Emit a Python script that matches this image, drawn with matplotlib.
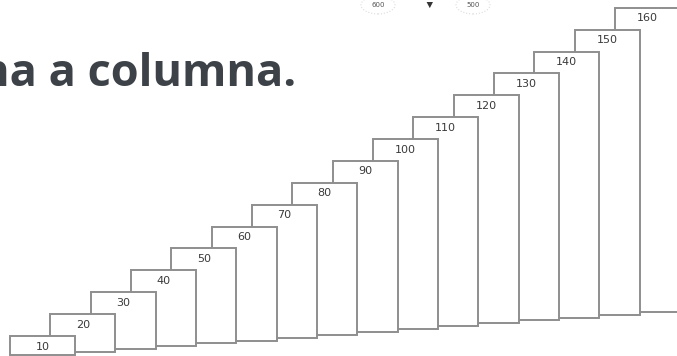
import numpy as np
import matplotlib.pyplot as plt
from matplotlib.patches import Circle

# column values (the staircase)
values = [10, 20, 30, 40, 50, 60, 70, 80, 90, 100, 110, 120, 130, 140, 150, 160]
labels = [str(v) for v in values]
title_text = "na a columna."
badge_labels = ["600", "500"]

W, H = 677, 356
fig = plt.figure(figsize=(W / 100, H / 100), dpi=100)
ax = fig.add_axes([0, 0, 1, 1])

step_px = 40.33      # horizontal step between columns
width_px = 65        # column width
unit_px = 1.9        # pixels per value unit
rise_px = 2.88       # bottoms climb a bit each column (perspective)

x = np.arange(len(values))
width = width_px / step_px
bottoms = (1 + rise_px * x) / unit_px

bars = ax.bar(x, values, width=width, bottom=bottoms, align='edge',
              facecolor='white', edgecolor='#8e8e8e', linewidth=1.4)
# front column is the shortest one, so draw the tall ones behind
for i, patch in enumerate(bars.patches):
    patch.set_zorder(100 - i)
    top = bottoms[i] + values[i]
    ax.text(x[i] + width / 2, top - 10.5 / unit_px, labels[i], ha='center', va='center',
            fontsize=8, color='#3a3a3a', zorder=100 - i + 0.5)

ax.set_xlim(-10 / step_px, (W - 10) / step_px)
ax.set_ylim(0, H / unit_px)
ax.axis('off')

# cropped title
fig.text(296 / W, 1 - 86 / H, title_text, ha='right', va='baseline',
         fontsize=32.5, fontweight='bold', family='Open Sans', color='#3c4247')

# bits of the cropped graphic at the top
for cx, lab in zip([378, 473], badge_labels):
    fig.text(cx / W, 1 - 5 / H, lab, ha='center', va='center', fontsize=5, color='#555555')
    fig.patches.append(Circle((cx / W, 1 - 5 / H), 17 / W, transform=fig.transFigure,
                              fill=False, edgecolor='#dddddd', linestyle=':', linewidth=0.8))
fig.text(430 / W, 1 - 3 / H, "\u25B2", ha='center', va='center', fontsize=6, color='#333333', rotation=180)

fig.savefig('out.png', dpi=100)
